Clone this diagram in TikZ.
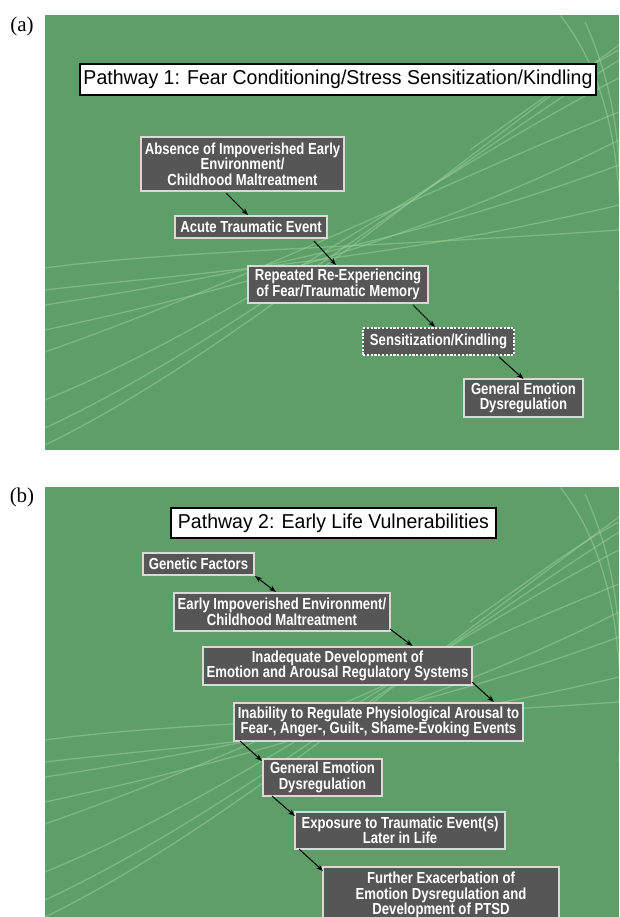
\documentclass[tikz,border=0pt]{standalone}
\usepackage{fontspec}
\setmainfont{Liberation Serif}
\newfontfamily\boxfont[FakeStretch=0.82]{Liberation Sans}
\newfontfamily\titlefont[FakeStretch=0.97]{Liberation Sans}
\usetikzlibrary{arrows.meta}
\definecolor{bggreen}{HTML}{5E9E68}
\definecolor{swooshc}{HTML}{A6D6A0}
\definecolor{boxfill}{HTML}{565656}
\definecolor{boxline}{HTML}{D9D9D9}
\newcommand\myswooshes{%
  \draw[swoosh] (45,445) .. controls (220,360) and (420,190) .. (619,45);
  \draw[swoosh] (45,428) .. controls (230,342) and (430,180) .. (619,60);
  \draw[swoosh] (45,400) .. controls (240,320) and (440,170) .. (619,78);
  \draw[swoosh] (45,352) .. controls (250,280) and (450,180) .. (619,112);
  \draw[swoosh] (45,330) .. controls (230,290) and (420,240) .. (619,140);
  \draw[swoosh] (45,305) .. controls (240,275) and (430,235) .. (619,165);
  \draw[swoosh] (45,290) .. controls (200,272) and (380,262) .. (619,205);
  \draw[swoosh] (45,268) .. controls (180,250) and (330,250) .. (619,230);
  \draw[swoosh] (560,15) .. controls (612,80) and (626,180) .. (619,290);
  \draw[swoosh] (585,22) .. controls (616,90) and (623,160) .. (619,230);
  \draw[swoosh] (470,150) .. controls (530,108) and (580,70) .. (619,50);
}
\begin{document}
\begin{tikzpicture}[x=1pt,y=-1pt,
  box/.style={draw=boxline, fill=boxfill, line width=1.3pt, text=white,
    font=\boxfont\bfseries\fontsize{16}{15.5}\selectfont, align=center,
    inner sep=0pt, outer sep=0pt},
  ttl/.style={draw=black, fill=white, line width=1.2pt,
    font=\titlefont\fontsize{20.1}{22}\selectfont, inner sep=0pt, outer sep=0pt},
  arr/.style={-{Stealth[length=7pt,width=5pt]}, line width=1pt, black},
  darr/.style={{Stealth[length=7pt,width=5pt]}-{Stealth[length=7pt,width=5pt]}, line width=1pt, black},
  swoosh/.style={draw=swooshc, line width=1.3pt, opacity=0.45},
  plabel/.style={font=\fontsize{21}{24}\selectfont, inner sep=0pt}
]
\useasboundingbox (0,0) rectangle (619,917);

% panel (a)
\begin{scope}
  \clip (45,15) rectangle (619,450);
  \fill[bggreen] (45,15) rectangle (619,450);
  \myswooshes
\end{scope}
% panel (b)
\begin{scope}
  \clip (45,487) rectangle (619,917);
  \fill[bggreen] (45,487) rectangle (619,917);
  \begin{scope}[shift={(0,472)}]
    \myswooshes
  \end{scope}
\end{scope}

\node[plabel] (la) at (22,26) {(a)};
\node[plabel] (lb) at (22,497) {(b)};

% Pathway 1
\node[ttl, minimum width=516pt, minimum height=31pt] (T1) at (338,79.5)
  {Pathway 1: Fear Conditioning/Stress Sensitization/Kindling};
\node[box, minimum width=203pt, minimum height=54pt] (A1) at (242.5,164)
  {Absence of Impoverished Early\\Environment/\\Childhood Maltreatment};
\node[box, minimum width=152pt, minimum height=22pt] (A2) at (251,227)
  {Acute Traumatic Event};
\node[box, minimum width=180pt, minimum height=37pt] (A3) at (338,284.5)
  {Repeated Re-Experiencing\\of Fear/Traumatic Memory};
\node[box, draw=white, dash pattern=on 2.2pt off 1.6pt, line width=1.6pt,
  minimum width=151pt, minimum height=27pt] (A4) at (438.5,341.5)
  {Sensitization/Kindling};
\node[box, minimum width=119pt, minimum height=38pt] (A5) at (523.5,398)
  {General Emotion\\Dysregulation};

\draw[arr] ([xshift=-16.5pt,yshift=-2pt]A1.south) -- ([xshift=-3pt,yshift=1pt]A2.north);
\draw[arr] ([xshift=63pt,yshift=-3pt]A2.south) -- ([xshift=-2pt,yshift=1pt]A3.north);
\draw[arr] ([xshift=75pt,yshift=-2pt]A3.south) -- ([xshift=-3.5pt,yshift=1pt]A4.north);
\draw[arr] ([xshift=60.5pt,yshift=-2pt]A4.south) -- (A5.north);

% Pathway 2
\node[ttl, minimum width=325pt, minimum height=30pt] (T2) at (333.5,523)
  {Pathway 2: Early Life Vulnerabilities};
\node[box, minimum width=111pt, minimum height=22pt] (B1) at (198.5,564)
  {Genetic Factors};
\node[box, minimum width=216pt, minimum height=38pt] (B2) at (282,612)
  {Early Impoverished Environment/\\Childhood Maltreatment};
\node[box, minimum width=269pt, minimum height=38pt] (B3) at (337.5,666)
  {Inadequate Development of\\Emotion and Arousal Regulatory Systems};
\node[box, minimum width=289pt, minimum height=38pt] (B4) at (378.5,722)
  {Inability to Regulate Physiological Arousal to\\Fear-, Anger-, Guilt-, Shame-Evoking Events};
\node[box, minimum width=119pt, minimum height=37pt] (B5) at (322.5,777.5)
  {General Emotion\\Dysregulation};
\node[box, minimum width=210pt, minimum height=37pt] (B6) at (400,830.5)
  {Exposure to Traumatic Event(s)\\Later in Life};
\node[box, minimum width=236pt, minimum height=56pt] (B7) at (441,895)
  {Further Exacerbation of\\Emotion Dysregulation and\\Development of PTSD};

\draw[darr] ([xshift=1pt,yshift=-1pt]B1.south east) -- ([xshift=-6pt,yshift=1pt]B2.north);
\draw[arr] ([yshift=2pt]B2.south east) -- ([xshift=75pt,yshift=1pt]B3.north);
\draw[arr] ([yshift=3pt]B3.south east) -- ([xshift=115.5pt,yshift=1pt]B4.north);
\draw[arr] ([xshift=6pt]B4.south west) -- ([xshift=-1pt,yshift=-2pt]B5.north west);
\draw[arr] ([xshift=9pt]B5.south west) -- ([xshift=0pt,yshift=-4pt]B6.north west);
\draw[arr] ([xshift=4pt]B6.south west) -- ([xshift=0pt,yshift=-4pt]B7.north west);
\end{tikzpicture}
\end{document}
